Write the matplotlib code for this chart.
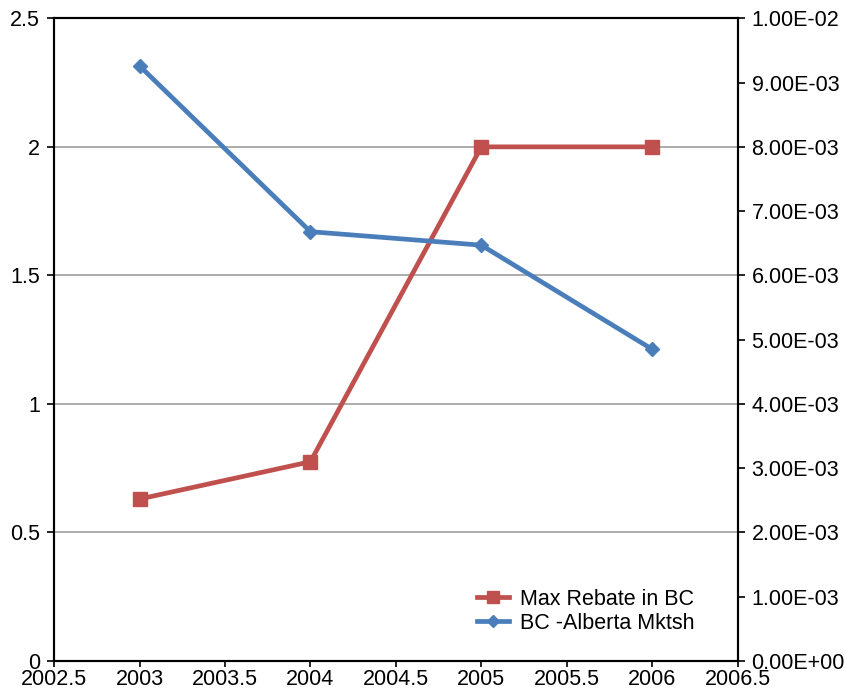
import matplotlib.pyplot as plt
import numpy as np

plt.rcParams['font.family'] = ['Liberation Sans', 'DejaVu Sans']

years = [2003, 2004, 2005, 2006]
max_rebate = [0.63, 0.775, 2.0, 2.0]
mktsh = [9.26e-03, 6.68e-03, 6.47e-03, 4.85e-03]

x_ticks = [2002.5, 2003, 2003.5, 2004, 2004.5, 2005, 2005.5, 2006, 2006.5]
left_ticks = [0, 0.5, 1, 1.5, 2, 2.5]
right_ticks = [i * 1e-3 for i in range(11)]

red = '#C0504D'
blue = '#4A7EBB'

fig = plt.figure(figsize=(8.45, 6.94), dpi=100)
ax = fig.add_axes([0.064, 0.0476, 0.809, 0.926])
ax2 = ax.twinx()

for y in [0.5, 1, 1.5, 2]:
    ax.axhline(y, color='#A0A0A0', lw=1.2, zorder=0)

l1, = ax.plot(years, max_rebate, color=red, lw=3.4, marker='s', ms=10,
              label='Max Rebate in BC', zorder=3)
l2, = ax2.plot(years, mktsh, color=blue, lw=3.4, marker='D', ms=7.5,
               label='BC -Alberta Mktsh', zorder=3)

ax.set_xlim(2002.5, 2006.5)
ax.set_ylim(0, 2.5)
ax2.set_ylim(0, 0.01)
ax.set_xticks(x_ticks)
ax.set_xticklabels([f'{t:g}' for t in x_ticks])
ax.set_yticks(left_ticks)
ax.set_yticklabels([f'{t:g}' for t in left_ticks])
ax2.set_yticks(right_ticks)
ax2.set_yticklabels(['%.2E' % t for t in right_ticks])

for a in (ax, ax2):
    a.tick_params(labelsize=15.5, length=5, width=1.2, direction='out', pad=5)
    for s in a.spines.values():
        s.set_linewidth(1.5)
ax.tick_params(axis='x', length=4, pad=1.5)

ax2.legend(handles=[l1, l2], loc='lower right', bbox_to_anchor=(0.965, 0.012),
           frameon=False, fontsize=15.5, handlelength=1.5, handletextpad=0.5,
           labelspacing=0.15, markerscale=0.8)

fig.savefig('out.png', dpi=100)
